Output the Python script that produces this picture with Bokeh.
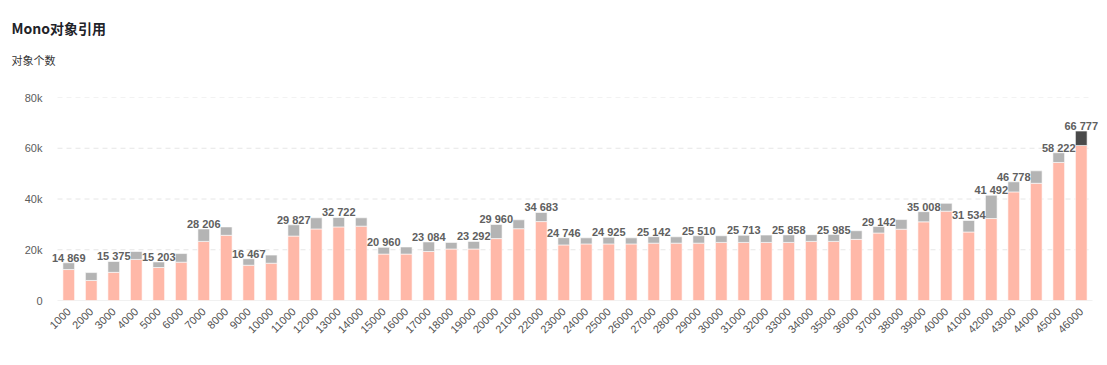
from bokeh.plotting import figure
from bokeh.models import ColumnDataSource, FactorRange, Range1d, FixedTicker, Title
from bokeh.core.properties import value
from bokeh.embed import file_html
from bokeh.resources import INLINE
import math

categories = [str(v) for v in range(1000, 47000, 1000)]

totals = [14869, 11000, 15375, 19300, 15203, 18500, 28206, 29000, 16467, 17900,
          29827, 32600, 32722, 32600, 20960, 21100, 23084, 22900, 23292, 29960,
          31800, 34683, 24746, 24700, 24925, 24700, 25142, 25100, 25510, 25500,
          25713, 25800, 25858, 25950, 25985, 27500, 29142, 31900, 35008, 38300,
          31534, 41492, 46778, 51100, 58222, 66777]

pink = [12200, 7900, 11100, 16200, 13000, 15100, 23300, 25700, 13900, 14700,
        25400, 28200, 29000, 29300, 18300, 18300, 19300, 20300, 20300, 24400,
        28300, 31100, 21900, 22300, 22300, 22300, 22600, 22600, 22600, 22900,
        22900, 22900, 22900, 23300, 23300, 24100, 26600, 28100, 31000, 35200,
        27000, 32300, 42800, 46200, 54400, 61100]

labeled = ["1000", "3000", "5000", "7000", "9000", "11000", "13000", "15000",
           "17000", "19000", "20000", "22000", "23000", "25000", "27000",
           "29000", "31000", "33000", "35000", "37000", "39000", "41000",
           "42000", "43000", "45000", "46000"]

highlight = "46000"

ytick_values = [0, 20000, 40000, 60000, 80000]
ytick_labels = ["0", "20k", "40k", "60k", "80k"]

PINK = "#ffb8a8"
GRAY = "#b4b4b4"
DARK = "#4a4a4a"

src = ColumnDataSource(dict(
    cat=categories,
    pink=pink,
    total=totals,
    topcolor=[DARK if c == highlight else GRAY for c in categories],
))

lab_total = [t for c, t in zip(categories, totals) if c in labeled]
lab_src = ColumnDataSource(dict(
    cat=[c for c in categories if c in labeled],
    total=lab_total,
    text=[f"{t:,}".replace(",", " ") for t in lab_total],
))

# a little room either side of the bands so the end labels are not clipped
x_range = FactorRange(*categories, range_padding=0.8 / len(categories),
                      range_padding_units="percent")

p = figure(width=1104, height=357, x_range=x_range,
           y_range=Range1d(0, 80000), output_backend="svg", toolbar_location=None,
           min_border_left=48, min_border_right=3, min_border_top=97,
           min_border_bottom=57)
p.outline_line_color = None
p.background_fill_color = "white"
p.border_fill_color = "white"

# horizontal grid lines spanning exactly the category bands
n = len(categories)
p.segment(x0=0, x1=n, y0=ytick_values[1:], y1=ytick_values[1:],
          line_color="#e6e6e6", line_dash="5 4", line_width=1)
p.segment(x0=0, x1=n, y0=ytick_values[0], y1=ytick_values[0],
          line_color="#e3e3e3", line_width=1)

p.vbar(x="cat", top="pink", bottom=0, width=0.52, source=src,
       fill_color=PINK, line_color="white", line_alpha=0.6, line_width=1)
p.vbar(x="cat", top="total", bottom="pink", width=0.52, source=src,
       fill_color="topcolor", line_color="white", line_alpha=0.6, line_width=1)

p.text(x="cat", y="total", text="text", source=lab_src,
       text_font=value("Liberation Sans"), text_font_size="11px",
       text_font_style="bold", text_color="#606060",
       text_align="center", text_baseline="alphabetic", y_offset=-5)

# axes
p.xgrid.grid_line_color = None
p.ygrid.grid_line_color = None

p.yaxis.ticker = FixedTicker(ticks=ytick_values)
p.yaxis.major_label_overrides = {v: l for v, l in zip(ytick_values, ytick_labels)}
p.yaxis.axis_line_color = None
p.yaxis.major_tick_line_color = None
p.yaxis.minor_tick_line_color = None
p.yaxis.major_tick_out = 0
p.yaxis.major_tick_in = 0
p.yaxis.major_label_standoff = 6
p.yaxis.major_label_text_font = "Liberation Sans"
p.yaxis.major_label_text_font_size = "11px"
p.yaxis.major_label_text_color = "#5c5c5c"

p.xaxis.axis_line_color = None
p.xaxis.major_tick_line_color = None
p.xaxis.minor_tick_line_color = None
p.xaxis.major_tick_out = 0
p.xaxis.major_tick_in = 0
p.xaxis.major_label_standoff = 9
p.xaxis.major_label_orientation = math.pi / 4
p.xaxis.major_label_text_font = "Liberation Sans"
p.xaxis.major_label_text_font_size = "11px"
p.xaxis.major_label_text_color = "#505050"

# blank (white, whitespace-only) spacer between the frame and the subtitle
p.add_layout(Title(text="\u00a0", text_font="Noto Sans CJK SC",
                   text_font_size="11px", text_color="white",
                   align="right", standoff=12), "above")
# subtitle, then the main title outermost
p.add_layout(Title(text="对象个数", text_font="Noto Sans CJK SC",
                   text_font_size="11px", text_font_style="normal",
                   text_color="#333333", align="left", offset=-37,
                   standoff=0), "above")
p.title.text = "Mono对象引用"
p.title.text_font = "Noto Sans CJK SC"
p.title.text_font_size = "14px"
p.title.text_font_style = "bold"
p.title.text_color = "#1f2329"
p.title.align = "left"
p.title.offset = -37
p.title.standoff = 24

open("out.html", "w").write(file_html(p, INLINE))
